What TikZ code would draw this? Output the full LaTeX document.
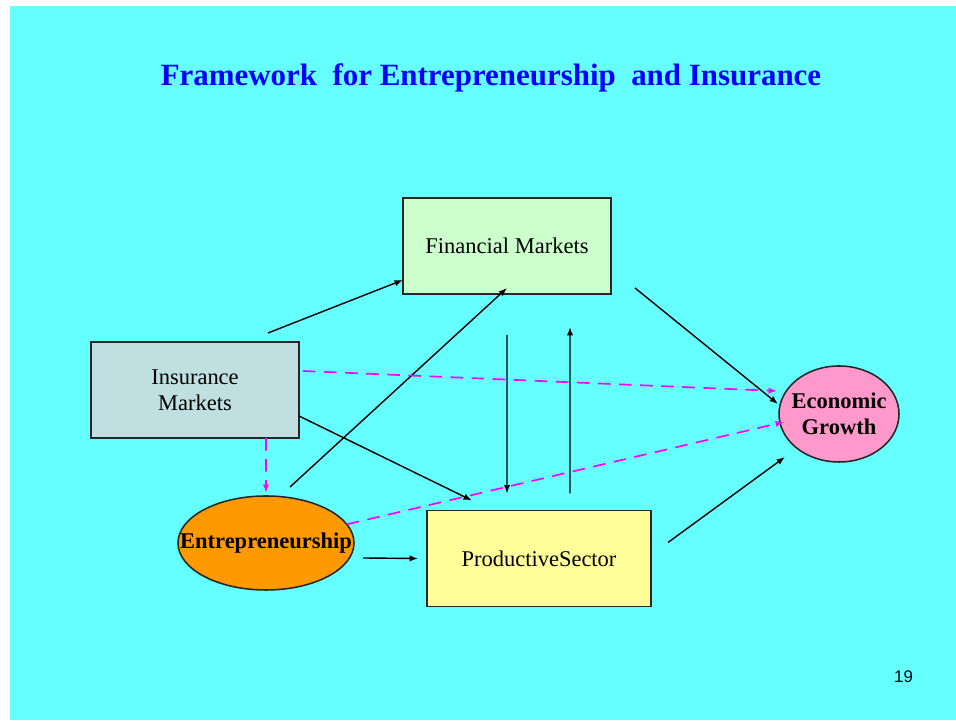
\documentclass[tikz,border=0pt]{standalone}
\usepackage{fontspec}
\setmainfont{Liberation Serif}
\setsansfont{Liberation Sans}
\usetikzlibrary{arrows.meta,shapes.geometric}

\definecolor{slidebg}{HTML}{66FFFF}
\definecolor{finfill}{HTML}{CCFFCC}
\definecolor{insfill}{HTML}{BFDFE0}
\definecolor{entfill}{HTML}{FF9900}
\definecolor{prodfill}{HTML}{FFFF99}
\definecolor{growthfill}{HTML}{FF99CC}
\definecolor{linkpink}{HTML}{FF00FF}
\definecolor{titleblue}{HTML}{0000FF}

\begin{document}
\begin{tikzpicture}[
  box/.style={draw=black!85, line width=1.4pt, inner sep=0pt, outer sep=0pt, minimum height=2.4cm, align=center, font=\fontsize{16}{18.5}\selectfont},
  oval/.style={ellipse, draw=black!85, line width=1.1pt, inner sep=0pt, outer sep=0pt},
  ovaltext/.style={align=center, font=\fontsize{16}{18.5}\selectfont\bfseries},
  link/.style={-{Latex[length=6pt,width=4.5pt]}, line width=1pt},
  dlink/.style={link, line width=1.2pt, color=linkpink, dash pattern=on 9pt off 6pt}
]

% slide background
\fill[white] (0,0) rectangle (23.9,18.025) ;
\fill[slidebg] (0.25,0.025) rectangle (23.9,17.875) ;

\node[anchor=base, text=titleblue, font=\fontsize{22}{26}\selectfont\bfseries] (title) at (12.275,15.875) {Framework~ for Entrepreneurship~ and Insurance} ;

% the five blocks
\node[box, fill=finfill, minimum width=5.2cm] (fin) at (12.675,11.875) {Financial Markets} ;
\node[box, fill=insfill, minimum width=5.2cm] (ins) at (4.875,8.275) {Insurance\\Markets} ;
\node[box, fill=prodfill, minimum width=5.6cm] (prod) at (13.475,4.0625) {ProductiveSector} ;
\node[oval, fill=entfill, minimum width=4.4cm, minimum height=2.35cm, label={[ovaltext]center:Entrepreneurship}] (ent) at (6.65,4.45) {} ;
\node[oval, fill=growthfill, minimum width=3cm, minimum height=2.4cm, label={[ovaltext]center:Economic\\Growth}] (eco) at (20.975,7.675) {} ;

% solid links
\draw[link] ([xshift=1.825cm,yshift=0.225cm]ins.north) -- ([yshift=-0.85cm]fin.west) ;
\draw[link] ([xshift=0.6cm,yshift=0.225cm]ent.north) -- ([yshift=0.15cm]fin.south) ;
\draw[link] ([yshift=-1.025cm]fin.south) -- ([xshift=-0.8cm,yshift=0.425cm]prod.north) ;
\draw[link] ([xshift=0.775cm,yshift=0.425cm]prod.north) -- ([xshift=1.575cm,yshift=-0.825cm]fin.south) ;
\draw[link] ([xshift=0.6cm,yshift=0.15cm]fin.south east) -- ([xshift=-0.025cm,yshift=0.25cm]eco.west) ;
\draw[link] ([yshift=-0.65cm]ins.east) -- ([xshift=-1.675cm,yshift=0.25cm]prod.north) ;
\draw[link] ([xshift=0.225cm,yshift=-0.375cm]ent.east) -- ([xshift=-0.225cm]prod.west) ;
\draw[link] ([xshift=0.425cm,yshift=0.4cm]prod.east) -- ([xshift=-1.35cm,yshift=0.125cm]eco.south) ;

% dashed links
\draw[dlink] ([xshift=0.1cm,yshift=0.475cm]ins.east) -- ([xshift=-0.05cm,yshift=0.575cm]eco.west) ;
\draw[dlink] ([xshift=1.775cm]ins.south) -- ([yshift=0.075cm]ent.north) ;
\draw[dlink] (ent.13) -- ([xshift=0.125cm,yshift=-0.2cm]eco.west) ;

\node[anchor=base, font=\sffamily\fontsize{12}{14}\selectfont] (page) at (22.59,0.95) {19} ;
\end{tikzpicture}
\end{document}
